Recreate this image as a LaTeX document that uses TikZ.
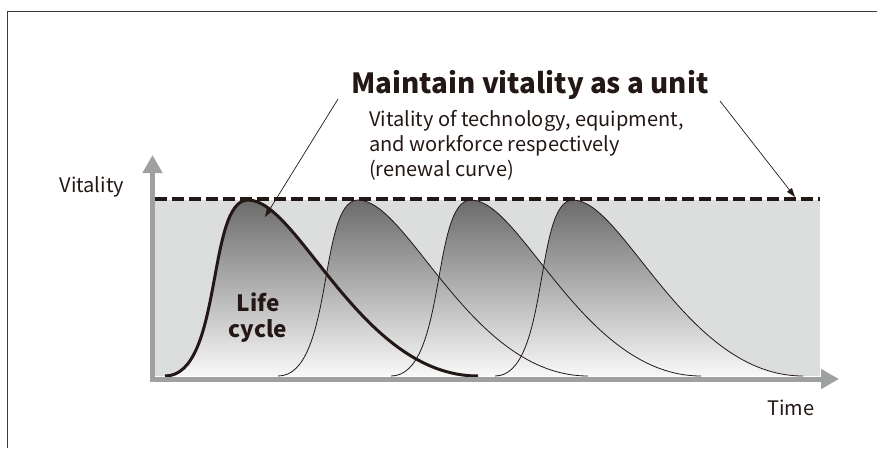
\documentclass[tikz,border=0pt]{standalone}
\usepackage{fontspec}
\setmainfont{Noto Sans CJK JP}
\usetikzlibrary{arrows.meta}
\definecolor{ink}{HTML}{231815}
\definecolor{framec}{HTML}{3E3A39}
\definecolor{axisc}{HTML}{9FA0A0}
\definecolor{bgc}{HTML}{DCDDDD}
\definecolor{ctop}{HTML}{6B6B6B}
\definecolor{cbot}{HTML}{F8F8F8}
% life-cycle curve: start x, peak x, end x
\newcommand{\lifecurve}[3]{(#1,376) .. controls ({#1+0.7*(#2-#1)},376) and ({#1+0.5*(#2-#1)},200) .. (#2,200) .. controls ({#2+0.22*(#3-#2)},200) and ({#2+0.49*(#3-#2)},376) .. (#3,376)}
\tikzset{
  axisline/.style={draw=axisc, line width=5pt, -{Triangle[length=18pt,width=19pt]}},
  curvefill/.style={top color=ctop, bottom color=cbot, draw=none},
  thincurve/.style={draw=ink, line width=0.8pt},
  thickcurve/.style={draw=ink, line width=3pt},
  pointer/.style={draw=ink, line width=0.7pt, -{Triangle[length=9pt,width=6pt]}},
  label/.style={font=\fontsize{20}{25.3}\selectfont, text=ink, inner sep=0pt},
}
\begin{document}
\begin{tikzpicture}[x=1pt,y=-1pt]
\useasboundingbox (0,0) rectangle (877,448);
% frame (left and top edges)
\draw[framec, line width=1pt] (7,448) -- (7,11.5) -- (877,11.5);
% background band
\fill[bgc] (155,200) rectangle (820,376);
% shaded life cycles
\path[curvefill] \lifecurve{495}{573}{803} -- cycle;
\path[curvefill] \lifecurve{391}{471}{701} -- cycle;
\path[curvefill] \lifecurve{278}{358}{588} -- cycle;
\path[curvefill] \lifecurve{165}{248}{478} -- cycle;
\path[thincurve] \lifecurve{495}{573}{803};
\path[thincurve] \lifecurve{391}{471}{701};
\path[thincurve] \lifecurve{278}{358}{588};
\path[thickcurve] \lifecurve{165}{248}{478};
% renewal line
\draw[ink, line width=3.5pt, dash pattern=on 12pt off 5pt] (155,199) -- (820,199);
% axes
\coordinate (o) at (152.5,379);
\coordinate (ytip) at (152.5,155);
\coordinate (xtip) at (839,379);
\draw[axisline] (o) -- (ytip);
\draw[axisline] (150,379) -- (xtip);
% labels
\node[label, anchor=base west] (vit) at (59.3,192.3) {Vitality};
\node[label, anchor=base west] (time) at (767,415) {Time};
\node[font=\bfseries\fontsize{27.8}{30}\selectfont, text=ink, inner sep=0pt, anchor=base] (title) at (530,93.3) {Maintain vitality as a unit};
\node[label, anchor=north west, align=left] (sub) at (369,110) {Vitality of technology, equipment,\\and workforce respectively\\(renewal curve)};
\node[font=\bfseries\fontsize{22.5}{26}\selectfont, text=ink, align=center, inner sep=0pt] (life) at (258,318) {Life\\cycle};
% pointers
\coordinate (p1s) at (338,99);
\coordinate (p1e) at (265,217);
\coordinate (p2s) at (720,101);
\coordinate (p2e) at (795,197);
\draw[pointer] (p1s) -- (p1e);
\draw[pointer] (p2s) -- (p2e);
\end{tikzpicture}
\end{document}
